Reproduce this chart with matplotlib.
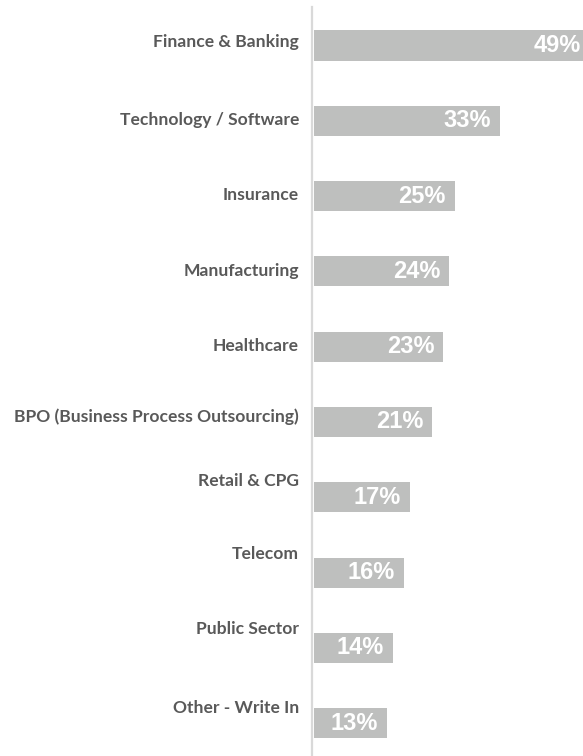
import matplotlib
matplotlib.use("Agg")
import matplotlib.pyplot as plt

categories = [
    "Finance & Banking",
    "Technology / Software",
    "Insurance",
    "Manufacturing",
    "Healthcare",
    "BPO (Business Process Outsourcing)",
    "Retail & CPG",
    "Telecom",
    "Public Sector",
    "Other - Write In",
]
values = [49, 33, 25, 24, 23, 21, 17, 16, 14, 13]
value_labels = ["49%", "33%", "25%", "24%", "23%", "21%", "17%", "16%", "14%", "13%"]

# layout: vertical nudge of each category label (pixels, negative = up)
label_nudge_px = [-4, -2, -2, -1, -2, -6, -17, -20, -20, -16]

W, H, DPI = 583, 756, 100
fig = plt.figure(figsize=(W / DPI, H / DPI), dpi=DPI)
fig.patch.set_facecolor("white")

left_px, top_px = 314, 7
ax = fig.add_axes([left_px / W, 0, 1 - left_px / W, 1 - top_px / H])

y = list(range(len(categories)))
ax.barh(y, values, height=0.40, color="#bebfbe", zorder=2)

ax.set_xlim(0, 47.8)
ax.set_ylim(9.436, -0.511)

for s in ["top", "right", "bottom"]:
    ax.spines[s].set_visible(False)
ax.spines["left"].set_color("#d9d9d9")
ax.spines["left"].set_linewidth(1.6)
ax.spines["left"].set_position(("outward", 1.5))
ax.set_xticks([])
ax.set_yticks([])

for i, (cat, v, lab) in enumerate(zip(categories, values, value_labels)):
    ax.annotate(cat, xy=(0, i), xytext=(-15, -label_nudge_px[i] - 6),
                textcoords="offset pixels", ha="right", va="baseline",
                fontsize=12.6, fontweight="bold", family=["Lato", "DejaVu Sans"],
                color="#595959", annotation_clip=False)
    ax.annotate(lab, xy=(v, i), xytext=(-9, 0), textcoords="offset pixels",
                ha="right", va="center", fontsize=17, fontweight="bold",
                family=["Liberation Sans", "DejaVu Sans"], color="white",
                annotation_clip=False, zorder=3)

fig.savefig("out.png", dpi=DPI)
